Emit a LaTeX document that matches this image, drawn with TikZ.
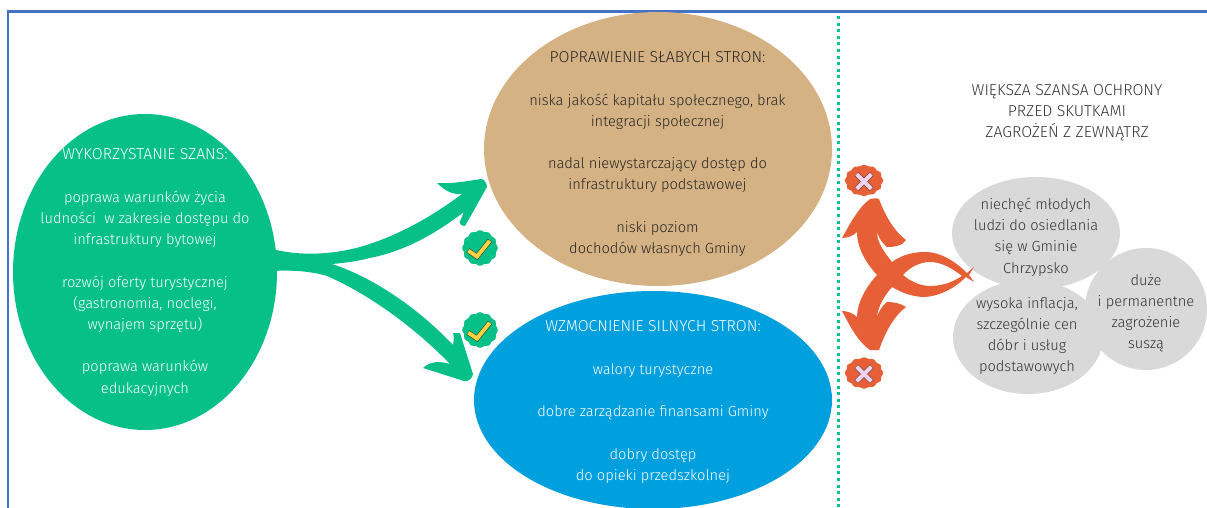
\documentclass[tikz,border=0pt]{standalone}
\usepackage{fontspec}
\setmainfont{Fira Sans Light}
\usetikzlibrary{shapes.geometric}
\definecolor{grn}{HTML}{07C088}
\definecolor{tan}{HTML}{D5B283}
\definecolor{blu}{HTML}{009FDD}
\definecolor{org}{HTML}{E65F36}
\definecolor{gry}{HTML}{D9D9D9}
\definecolor{txt}{HTML}{333333}
\definecolor{frm}{HTML}{4472C4}
\definecolor{yel}{HTML}{FFD23F}
\definecolor{pnk}{HTML}{F1D2F0}
\definecolor{dotg}{HTML}{05C58A}
\newcommand{\capz}[1]{{\fontsize{15.8}{21.2}\selectfont #1}}
\tikzset{
 blob/.style={ellipse,draw=none,inner sep=0pt,minimum width=#1},
 lbl/.style={align=center,inner sep=0pt,font=\fontsize{14.65}{21.2}\selectfont,text=txt},
 wlbl/.style={lbl,text=white},
 badge/.pic={\fill[#1] plot[smooth cycle,samples=48,domain=0:352.5] (\x:{17.2+0.7*cos(12*\x)});},
}
\begin{document}
\begin{tikzpicture}[x=1pt,y=-1pt]
\useasboundingbox (0,0) rectangle (1207,508);
\clip (0,0) rectangle (1207,508);
\draw[frm,line width=2.2pt] (8,520) -- (8,11.5) -- (1220,11.5);
\draw[dotg,line width=3pt,dash pattern=on 3pt off 3.6pt] (838.5,16) -- (838.5,508);
% ellipses
\node[blob=264pt,minimum height=316pt,fill=grn] (szanse) at (145,272) {};
\node[blob=348pt,minimum height=274pt,fill=tan] (slabe) at (658,149) {};
\node[blob=358pt,minimum height=218pt,fill=blu] (silne) at (653,400) {};
\node[blob=122pt,minimum height=122pt,fill=gry] (susza) at (1146,309) {};
\node[blob=168pt,minimum height=112pt,fill=gry] (niechec) at (1036,233) {};
\node[blob=150pt,minimum height=114pt,fill=gry] (inflacja) at (1028,337) {};
% green arrows
\fill[grn] (272,249) .. controls (300,256) and (330,255) .. (360,247)
 .. controls (395,237) and (430,218) .. (462,194)
 .. controls (452,195) and (444,190) .. (437,183)
 .. controls (452,184) and (468,181) .. (481,179)
 .. controls (484,179) and (487,183) .. (487,187)
 -- (465,226) .. controls (462,226) and (459,224) .. (460,221)
 -- (464,212)
 .. controls (435,234) and (405,251) .. (370,258)
 .. controls (358,261) and (345,263) .. (332,264)
 .. controls (375,278) and (420,310) .. (453,345)
 .. controls (454,340) and (454,336) .. (453,333)
 -- (460,333) -- (473,374)
 .. controls (473,378) and (468,382) .. (464,381)
 -- (423,368)
 .. controls (430,361) and (440,361) .. (450,364)
 .. controls (420,333) and (375,297) .. (327,276)
 .. controls (310,271) and (292,270) .. (272,271) -- cycle;
% orange arrows
\fill[org,even odd rule] (870,199) .. controls (873,198) and (877,198) .. (879,199)
 .. controls (885,215) and (893,230) .. (906,240)
 -- (902,244) .. controls (896,247) and (891,247) .. (887,247)
 .. controls (882,243) and (879,238) .. (877,232)
 .. controls (877,243) and (885,253) .. (892,262)
 .. controls (903,254) and (915,252) .. (925,252)
 .. controls (942,252) and (957,263) .. (967,273)
 -- (974,267) -- (969,275) -- (974,282) -- (966,277)
 .. controls (955,288) and (940,296) .. (925,297)
 .. controls (913,297) and (902,293) .. (892,287)
 .. controls (885,295) and (878,306) .. (877,317)
 .. controls (879,311) and (882,306) .. (887,302)
 .. controls (893,302) and (900,303) .. (906,307)
 .. controls (893,317) and (885,333) .. (879,350)
 -- (870,350) .. controls (858,342) and (850,326) .. (842,311)
 .. controls (847,311) and (853,313) .. (857,317)
 .. controls (857,303) and (866,287) .. (877,275)
 .. controls (866,263) and (857,248) .. (857,232)
 .. controls (853,236) and (847,238) .. (842,238)
 .. controls (850,224) and (858,208) .. (870,199) -- cycle
 (903,275) .. controls (910,267) and (920,262) .. (930,262)
 .. controls (942,262) and (953,269) .. (962,276)
 .. controls (953,282) and (942,286) .. (930,286)
 .. controls (920,286) and (910,281) .. (903,275) -- cycle;
% badges
\pic at (480,248) {badge=grn};
\pic at (480,330) {badge=grn};
\pic[xscale=1.08,yscale=.88] at (864,180.5) {badge=org};
\pic[xscale=1.08,yscale=.88] at (864,373) {badge=org};
\foreach \cy in {248,330}{
 \draw[line width=5.2pt,draw=txt!85!grn] (468,\cy+2.5) -- (477,\cy+8.5) -- (490,\cy-7.5);
 \draw[line width=3.9pt,draw=yel] (468.3,\cy+2.7) -- (477,\cy+8.5) -- (489.7,\cy-7.2);
}
\foreach \cy in {181.5,374}{
 \draw[line width=5.2pt,draw=txt!80!org] (856.5,\cy-7.5) -- (871.5,\cy+7.5) (856.5,\cy+7.5) -- (871.5,\cy-7.5);
 \draw[line width=4pt,draw=pnk] (856.7,\cy-7.3) -- (871.3,\cy+7.3) (856.7,\cy+7.3) -- (871.3,\cy-7.3);
}
% text
\node[wlbl] (t1) at (145,272.5) {\capz{WYKORZYSTANIE SZANS:}\\[21.2pt]poprawa warunków życia\\ludności\ \ w zakresie dostępu do\\infrastruktury bytowej\\[21.2pt]rozwój oferty turystycznej\\(gastronomia, noclegi,\\wynajem sprzętu)\\[21.2pt]poprawa warunków\\edukacyjnych};
\node[lbl,text=black!85] (t2) at (657.5,154) {\capz{POPRAWIENIE SŁABYCH STRON:}\\[21.2pt]niska jakość kapitału społecznego, brak\\integracji społecznej\\[21.2pt]nadal niewystarczający dostęp do\\infrastruktury podstawowej\\[21.2pt]niski poziom\\dochodów własnych Gminy};
\node[wlbl] (t3) at (653,402) {\capz{WZMOCNIENIE SILNYCH STRON:}\\[21.2pt]walory turystyczne\\[21.2pt]dobre zarządzanie finansami Gminy\\[21.2pt]dobry dostęp\\do opieki przedszkolnej};
\node[lbl] (t4) at (1067,113) {\capz{WIĘKSZA SZANSA OCHRONY}\\\capz{PRZED SKUTKAMI}\\\capz{ZAGROŻEŃ Z ZEWNĄTRZ}};
\node[lbl] (t5) at (1036,237) {niechęć młodych\\ludzi do osiedlania\\się w Gminie\\Chrzypsko};
\node[lbl] (t6) at (1027,336) {wysoka inflacja,\\szczególnie cen\\dóbr i usług\\podstawowych};
\node[lbl] (t7) at (1146,313) {duże\\i permanentne\\zagrożenie\\suszą};
\end{tikzpicture}
\end{document}
